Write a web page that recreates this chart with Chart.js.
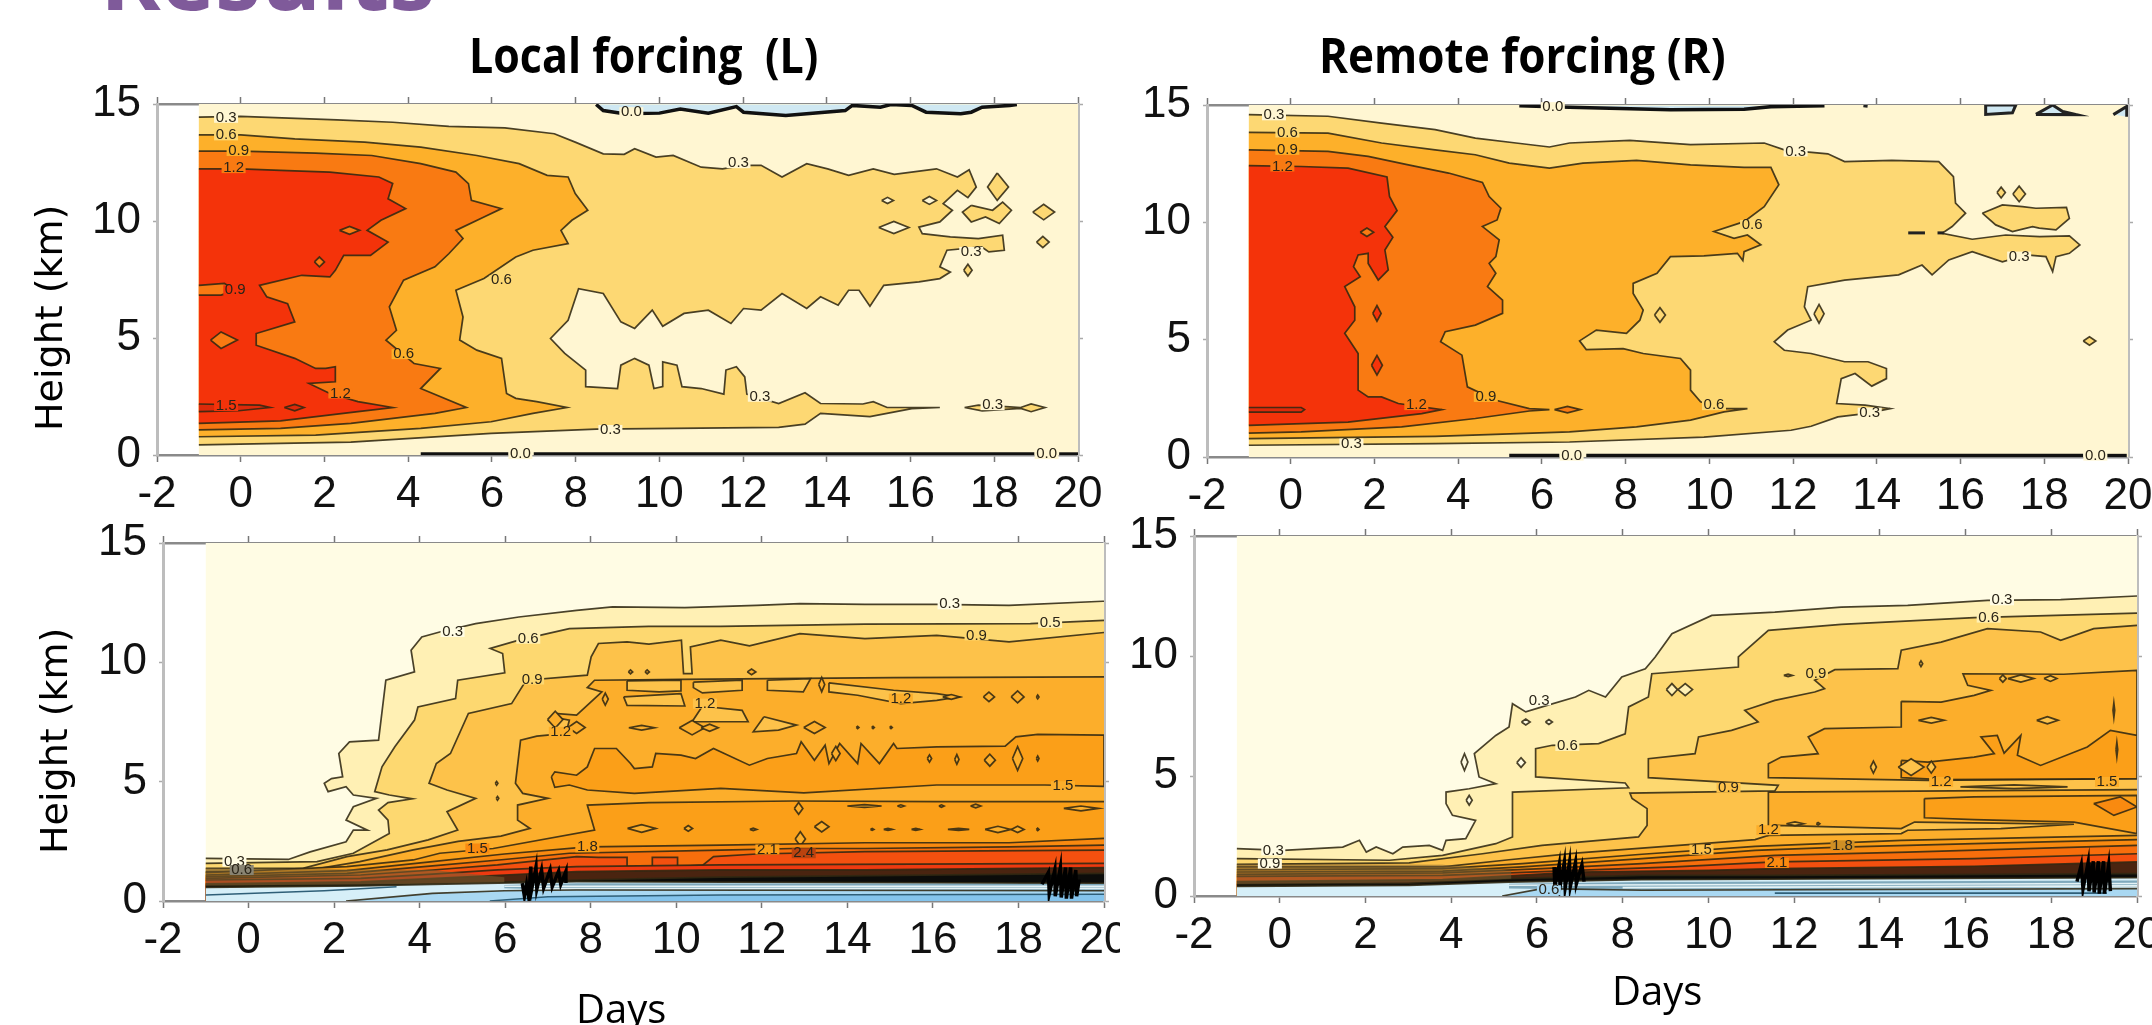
<!DOCTYPE html>
<html>
<head>
<meta charset="utf-8">
<title>Results</title>
<script src="https://cdn.jsdelivr.net/npm/chart.js@4"></script>
<style>
  html, body { margin: 0; padding: 0; background: #fff; overflow: hidden; }
  body { width: 2152px; height: 1025px; position: relative; }
  canvas { position: absolute; filter: blur(0.6px); }
  .txt { position: absolute; white-space: nowrap; transform-origin: 0 0; color: #000; font-family: "Open Sans", sans-serif; line-height: 1; z-index: 2; }
</style>
</head>
<body>
<div class="txt" style="left:100px;top:-71px;font-size:92px;font-weight:700;color:#7f5a9a">Results</div>
<div class="txt" style="left:469px;top:31px;font-size:48px;font-weight:700;transform:scaleX(.895)">Local forcing&nbsp; (L)</div>
<div class="txt" style="left:1319px;top:31px;font-size:48px;font-weight:700;transform:scaleX(.917)">Remote forcing (R)</div>
<div class="txt" style="left:576px;top:988px;font-size:40px;transform:scaleX(1)">Days</div>
<div class="txt" style="left:1612px;top:970px;font-size:40px;transform:scaleX(1)">Days</div>
<div class="txt" style="left:30px;top:431px;font-size:38px;font-family:'DejaVu Sans';transform:rotate(-90deg)">Height (km)</div>
<div class="txt" style="left:35px;top:854px;font-size:38px;font-family:'DejaVu Sans';transform:rotate(-90deg)">Height (km)</div>
<canvas id="localUpper"></canvas>
<canvas id="remoteUpper"></canvas>
<canvas id="localLower"></canvas>
<canvas id="remoteLower"></canvas>
<script>
// axis ticks
const dayTicks = [-2, 0, 2, 4, 6, 8, 10, 12, 14, 16, 18, 20];
const heightTicks = [0, 5, 10, 15];

// contour colours, level by level
const bandColours = { base: '#fff6d2', c03: '#fdd873', c06: '#fdb02a', c09: '#f97a12', c12: '#f4330a', c15: '#dc2a0a' };
const lowColours = { base: '#fffce4', c03: '#fff0b4', c06: '#fdd870', c09: '#fdc24a', c12: '#fcae2b', c15: '#fb9f18',
    c18: '#f98a10', c21: '#f76e0c', c24: '#f4500f', c27: '#ee3a10', dark: '#4a2410', black: '#0c0c0a' };
const blueColours = { pale: '#d6eff8', teal: '#7fa9bc', mid: '#a9d8f2', deep: '#84c4ec', top: '#cfe8f2' };

// ---- local forcing, upper panel: [day, km]
const lu03 = [[-1,14.44],[0,14.47],[2.3,14.32],[3.63,14.22],[4.97,14.04],[6.31,13.98],[7.49,13.73],[7.99,13.37],[8.66,12.87],[9.16,12.85],[9.41,13.09],[9.92,12.73],[10.33,12.8],[11,12.3],[11.51,12.23],[12,12.38],[12.43,12.38],[12.93,11.88],[13.52,12.45],[14.02,12.23],[14.52,11.95],[15.11,12.23],[15.61,11.99],[16.62,12.23],[17.12,11.88],[17.4,12.19],[17.57,11.45],[17.37,11],[17.12,11.31],[16.78,10.74],[17,10.46],[16.7,9.96],[16.2,9.74],[16.28,9.46],[16.95,9.32],[17.62,9.25],[18.2,9.39],[18.24,8.75],[17.87,8.68],[17.7,8.89],[16.87,8.75],[16.7,8.04],[16.95,7.82],[16.7,7.54],[16.2,7.4],[15.36,7.25],[15.03,6.36],[14.77,7.04],[14.52,7.04],[14.27,6.4],[13.85,6.76],[13.52,6.26],[12.93,6.9],[12.43,6.19],[12.01,6.26],[11.71,5.62],[11.17,6.19],[10.59,6.05],[10.08,5.5],[9.83,6.19],[9.41,5.41],[9.08,5.69],[8.66,6.9],[8.07,7.11],[7.82,5.76],[7.4,4.98],[7.74,4.34],[8.24,3.63],[8.24,2.92],[9,2.84],[9.08,3.84],[9.41,4.13],[9.75,3.84],[9.87,2.84],[10.08,2.92],[10.08,3.98],[10.42,3.84],[10.54,2.92],[11,2.84],[11.54,2.6],[11.59,3.63],[11.84,3.77],[12.04,3.34],[12.09,2.6],[12.85,2.2],[13.48,2.66],[13.85,2.2],[14.86,2.18],[15.11,2.28],[15.44,2.03],[16.7,2.03],[16.03,1.98],[15.03,1.64],[13.85,1.78],[13.48,1.32],[12.85,1.18],[8.49,1.11],[5.98,0.92],[2.63,0.55],[0.95,0.5],[-1,0.43]];
const lu06 = [[-1,13.68],[0,13.68],[1.29,13.51],[2.96,13.37],[4.3,13.16],[5.64,12.8],[6.65,12.45],[7.32,11.95],[7.82,11.88],[7.99,11.17],[8.29,10.46],[7.91,10.03],[7.65,9.6],[7.82,9.03],[6.98,8.75],[6.57,8.46],[5.81,7.54],[5.14,7.04],[5.31,5.9],[5.23,4.91],[5.64,4.48],[6.23,4.13],[6.35,2.63],[6.57,2.42],[7.07,2.28],[7.79,2.03],[6.98,1.78],[5.98,1.42],[4.3,1.14],[1.79,0.85],[-1,0.78]];
const lu09 = [[-1,12.99],[0,12.99],[1.79,12.9],[3.13,12.8],[4.3,12.45],[5.14,12.09],[5.44,11.6],[5.51,10.88],[6.23,10.53],[5.81,10.17],[5.14,9.6],[5.31,9.25],[4.97,8.6],[4.64,8.04],[3.89,7.47],[3.55,6.33],[3.72,5.33],[3.47,4.91],[4.14,3.91],[4.77,3.7],[4.3,2.84],[5.39,2.03],[4.64,1.78],[2.63,1.35],[0.95,1.14],[-1,1.07]];
const lu12 = [[-1,12.23],[0,12.23],[0.95,12.16],[2.13,12.09],[3.3,11.88],[3.63,11.6],[3.52,10.95],[3.94,10.53],[3.35,10.03],[3.02,9.6],[3.52,9.1],[3.1,8.53],[2.46,8.53],[2.26,7.89],[2.13,7.61],[1.46,7.68],[0.45,7.25],[0.62,6.76],[1.12,6.47],[1.29,5.69],[0.37,5.19],[0.37,4.69],[1.29,4.13],[1.79,3.7],[2.03,3.7],[2.26,3.77],[2.26,3.13],[1.63,3.06],[2.13,2.63],[2.8,2.28],[3.63,2.03],[2.8,1.85],[0.95,1.46],[-1,1.35]];
const lu15a = [[-1,2.18],[0.45,2.13],[0.7,2.03],[-0.05,1.89],[-1,1.85]];
const lu15b = [[1.04,2.03],[1.29,2.16],[1.51,2.03],[1.29,1.89],[1.04,2.03]];
const luHoleA = [[-1,7.25],[-0.39,7.33],[-0.13,7.04],[-0.47,6.83],[-1,6.83]];
const luHoleB = [[-0.72,4.91],[-0.47,5.26],[-0.08,4.91],[-0.47,4.55],[-0.72,4.91]];
const luTop = [[8.49,14.98],[8.66,14.72],[9.16,14.58],[10,14.61],[10.5,14.79],[11.17,14.61],[11.84,14.89],[12.01,14.65],[13.02,14.51],[14.44,14.72],[14.61,14.94],[15.28,14.86],[15.53,14.98],[16.03,14.94],[16.37,14.65],[17.2,14.58],[17.45,14.65],[17.71,14.86],[18.37,14.94],[18.54,14.98]];
const luLensA = [[18.07,12.05],[18.34,11.45],[18.07,10.88],[17.84,11.45],[18.07,12.05]];
const luLensB = [[17.45,10.67],[17.96,10.46],[18.2,10.81],[18.41,10.46],[18.12,9.89],[17.79,10.17],[17.45,9.96],[17.24,10.38],[17.45,10.67]];
const luLensC = [[17.29,2.03],[17.62,2.13],[18.37,2.06],[18.63,2.03],[18.88,2.18],[19.21,2.03],[18.88,1.85],[18.63,1.99],[17.71,1.89],[17.29,2.03]];
const luLoops03 = [[19.18,10.38,0.26,0.33],[19.16,9.1,0.15,0.24],[17.37,7.9,0.1,0.25]];
const luLoopsBase = [[15.45,10.88,0.14,0.13],[16.45,10.88,0.17,0.17],[15.6,9.72,0.36,0.26]];
const luLoops09 = [[2.6,9.6,0.24,0.17],[1.88,8.25,0.12,0.21]];
const luZero = [[[4.3,0.03],[6.4,0.03]],[[7,0.03],[18.96,0.03]],[[19.55,0.03],[20,0.03]]];
const luLabels = [[-0.35,14.41,'0.3'],[-0.35,13.66,'0.6'],[-0.05,12.99,'0.9'],[-0.17,12.26,'1.2'],[-0.13,7.04,'0.9'],[9.33,14.65,'0.0'],[11.89,12.47,'0.3'],[6.23,7.47,'0.6'],[3.89,4.31,'0.6'],[2.38,2.63,'1.2'],[12.4,2.49,'0.3'],[-0.35,2.09,'1.5'],[8.83,1.07,'0.3'],[17.96,2.13,'0.3'],[17.45,8.68,'0.3'],[6.68,0.04,'0.0'],[19.25,0.04,'0.0']];

// ---- remote forcing, upper panel
const ru03 = [[-1,14.59],[0.89,14.52],[2.17,14.23],[3.45,13.95],[4.41,13.59],[5.38,13.38],[6.18,13.21],[6.66,13.38],[8.1,13.49],[9.55,13.31],[11.31,13.38],[11.79,13.09],[12.83,12.92],[13.23,12.59],[14.36,12.64],[15.48,12.59],[15.83,11.95],[15.88,10.82],[16.12,10.39],[15.8,9.82],[15.56,9.53],[16.28,9.28],[17.08,9.46],[17.89,9.39],[18.6,9.42],[18.85,9.04],[18.6,8.68],[18.28,8.54],[18.2,7.9],[18.04,8.54],[17.57,8.61],[17,8.32],[16.28,8.75],[15.72,8.4],[15.32,7.76],[15.08,8.18],[14.52,7.76],[13.23,7.54],[12.35,7.26],[12.27,6.4],[12.43,5.83],[11.87,5.41],[11.55,4.91],[11.79,4.55],[12.43,4.41],[13.23,4.06],[13.79,4.06],[14.23,3.77],[14.23,3.34],[13.88,3.02],[13.48,3.56],[13.15,3.34],[13.04,2.28],[13.72,2.21],[14.32,2.06],[13.72,1.85],[13.07,1.71],[12.43,1.31],[11.95,1.14],[9.87,0.85],[6.66,0.64],[3.45,0.57],[-1,0.5]];
const ru06 = [[-1,13.83],[0.89,13.8],[2.17,13.38],[3.45,13.09],[4.41,12.88],[5.22,12.52],[6.18,12.31],[6.98,12.52],[8.26,12.64],[9.55,12.45],[10.83,12.34],[11.47,12.34],[11.66,11.6],[11.31,10.67],[10.83,10.03],[10.11,9.61],[10.59,9.32],[10.91,9.46],[11.23,9.04],[10.83,8.75],[10.8,8.37],[10.67,8.68],[9.87,8.57],[9.07,8.54],[8.75,7.83],[8.18,7.4],[8.18,6.97],[8.42,6.26],[8.34,5.83],[8.02,5.27],[7.3,5.41],[6.9,4.95],[7.06,4.58],[7.94,4.62],[8.42,4.41],[9.31,4.2],[9.55,3.7],[9.55,2.85],[9.79,2.35],[10.35,2.06],[10.91,2.06],[10.35,1.92],[9.55,1.57],[8.26,1.28],[6.66,1.07],[3.45,0.88],[-1,0.78]];
const ru09 = [[-1,13.09],[0.89,13.02],[1.85,12.81],[2.81,12.45],[3.77,12.1],[4.58,11.7],[4.74,11.1],[5.02,10.6],[4.93,10.1],[4.58,9.82],[4.98,9.25],[4.9,8.54],[4.74,8.25],[4.9,7.83],[4.7,7.26],[5.06,6.69],[5.06,6.12],[4.41,5.62],[3.69,5.34],[3.58,4.91],[4.09,4.34],[4.22,2.99],[4.9,2.42],[5.7,2.06],[6.18,2.02],[5.7,1.96],[4.41,1.64],[2.65,1.28],[0.25,1.07],[-1,1.02]];
const ru12 = [[-1,12.42],[0.25,12.38],[1.37,12.31],[2.3,11.93],[2.36,11.1],[2.54,10.5],[2.25,9.82],[2.44,9.36],[2.25,8.82],[2.33,7.97],[2.09,7.54],[1.85,8.25],[1.85,8.68],[1.61,8.61],[1.5,8.11],[1.66,7.68],[1.29,7.26],[1.53,6.4],[1.53,5.83],[1.29,5.27],[1.61,4.41],[1.61,2.85],[1.85,2.56],[2.17,2.56],[2.57,2.28],[3.61,2.02],[3.13,1.85],[1.37,1.49],[-1,1.35]];
const ru15 = [[-1,2.11],[0.25,2.11],[0.33,2.02],[0.25,1.91],[-1,1.91]];
const ruTop = [[5.46,14.97],[6.66,14.9],[9.07,14.8],[10.83,14.82],[11.47,14.93],[12.75,14.97]];
const ruLobe = [[16.52,10.39],[17,10.74],[17.48,10.67],[17.8,10.6],[18.53,10.64],[18.6,10.17],[18.28,9.68],[17.88,9.75],[17.72,9.82],[17.24,9.61],[16.84,9.89],[16.52,10.39]];
const ruBlobA = [[16.6,15],[17.32,15],[17.24,14.67],[16.6,14.6],[16.6,15]];
const ruBlobB = [[17.8,14.6],[18.2,15],[18.44,14.72],[18.76,14.59],[17.8,14.6]];
const ruBlobC = [[19.65,14.59],[19.97,14.94],[19.97,14.5]];
const ruDash = [[[14.75,9.55],[15.15,9.55]],[[15.45,9.55],[15.6,9.55]],[[13.68,14.97],[13.78,14.95]]];
const ruLoops03 = [[16.97,11.27,0.1,0.23],[17.4,11.21,0.15,0.33],[12.62,6.1,0.12,0.4],[8.82,6.05,0.13,0.31]];
const ruLoops06 = [[19.08,4.94,0.15,0.18]];
const ruLoops09 = [[6.61,2.02,0.31,0.14],[1.82,9.58,0.16,0.18]];
const ruLoops12 = [[2.06,6.12,0.1,0.33],[2.06,3.91,0.13,0.42]];
const ruZero = [[[5.22,0.05],[6.42,0.05]],[[7.06,0.05],[18.93,0.05]],[[19.49,0.05],[19.97,0.05]]];
const ruLabels = [[-0.4,14.56,'0.3'],[-0.08,13.83,'0.6'],[-0.08,13.09,'0.9'],[-0.2,12.38,'1.2'],[6.26,14.91,'0.0'],[12.06,13.02,'0.3'],[11.02,9.89,'0.6'],[17.4,8.54,'0.3'],[4.66,2.56,'0.9'],[10.11,2.21,'0.6'],[3,2.21,'1.2'],[13.83,1.89,'0.3'],[1.45,0.57,'0.3'],[6.71,0.06,'0.0'],[19.22,0.06,'0.0']];

// ---- local forcing, lower panel
const ll03 = [[-1,1.79],[0.93,1.74],[1.44,2.06],[2.28,2.48],[2.45,2.97],[2.78,2.97],[2.28,3.39],[2.45,3.95],[2.99,4.3],[2.45,4.44],[2.28,4.79],[1.86,4.58],[1.77,4.93],[1.94,5.13],[2.2,5.2],[2.11,6.18],[2.36,6.67],[3.04,6.74],[3.21,9.25],[3.88,9.6],[3.8,10.51],[4.05,11.06],[4.47,11.27],[5.31,11.62],[6.32,11.9],[7.67,12.18],[8.51,12.32],[10.2,12.29],[11.88,12.39],[12.89,12.46],[14.41,12.43],[16.09,12.43],[17.78,12.39],[19.97,12.56],[20,12.56]];
const ll06 = [[-1,1.58],[1.6,1.65],[2.45,2],[3.29,2.83],[3.26,3.39],[3.04,3.81],[3.26,4.12],[3.83,4.28],[3.29,4.44],[2.95,4.58],[3.12,5.62],[3.42,6.46],[3.88,7.58],[3.96,8.13],[4.84,8.48],[4.89,9.25],[5.99,9.56],[5.94,10.37],[5.65,10.58],[6.32,10.93],[7.5,11.41],[9.36,11.51],[11.04,11.51],[14.41,11.6],[18.28,11.62],[20,11.76]];
const ll09 = [[-1,1.37],[1.27,1.37],[2.3,1.86],[3.24,2.14],[4.2,2.56],[4.89,2.97],[4.64,3.74],[5.31,4.3],[4.64,4.65],[4.22,4.93],[4.39,5.76],[4.72,6.18],[5.14,7.86],[6.15,8.27],[6.49,9.25],[7.92,9.46],[8.01,10.23],[8.18,10.79],[8.85,10.86],[9.36,10.76],[10.12,10.93],[10.17,9.53],[10.37,9.53],[10.33,10.65],[11.04,10.93],[11.71,10.69],[12.89,11.2],[14.41,10.99],[16.09,11.13],[17.78,10.86],[20,11.25]];
const ll12 = [[-1,1.23],[1.27,1.25],[2.6,1.65],[3.85,2.14],[4.9,2.5],[5.9,2.72],[6.58,3.04],[6.29,3.39],[6.29,4.02],[7,4.3],[6.41,4.51],[6.24,4.93],[6.36,6.74],[6.74,6.91],[7.42,7.02],[7.5,7.58],[7.08,7.72],[7.16,7.86],[7.67,7.79],[8.26,8.76],[7.92,8.94],[8.09,9.25],[10.11,9.29],[15.08,9.36],[20,9.39]];
const ll15a = [[7.08,5.2],[7.16,5.41],[7.67,5.27],[7.92,5.62],[8.09,6.39],[8.6,6.39],[8.93,5.76],[9.02,5.55],[9.44,5.62],[9.52,6.18],[10.11,6.11],[10.45,5.97],[10.87,6.39],[11.71,5.69],[12.13,5.97],[12.81,6.18],[12.92,6.67],[13.23,5.9],[13.48,6.53],[13.57,5.76],[13.82,6.6],[14.24,5.76],[14.32,6.6],[14.75,5.76],[15.08,6.6],[15.16,6.39],[16.09,6.46],[17.69,6.49],[17.94,6.88],[18.45,6.98],[20,6.95],[20,4.8],[18.62,4.86],[16.09,4.86],[12.98,4.53],[11.04,4.72],[9.02,4.51],[7.92,4.65],[7.5,4.86],[7.16,4.76],[7.08,5.2]];
const ll15b = [[20,4.16],[16.09,4.16],[12.72,4.19],[9.36,4.12],[7.92,4.02],[8.09,2.97],[5.72,2.2],[4.47,2],[3.85,1.72],[2.3,1.44],[-1,1.19]];
const ll18 = [[-1,1.09],[2.3,1.27],[4.3,1.65],[5.98,1.97],[7.92,2.27],[11.04,2.34],[14.41,2.44],[17.78,2.44],[20,2.62]];
const ll21 = [[-1,1.02],[2.3,1.16],[4.3,1.47],[5.98,1.74],[7.5,2],[11.04,2.13],[12.72,2.2],[14.41,2.2],[17.78,2.27],[20,2.34]];
const ll24 = [[-1,0.95],[2.62,1.09],[4.3,1.3],[5.82,1.51],[7.67,1.86],[8.18,1.83],[8.85,1.83],[8.85,1.44],[9.44,1.44],[9.44,1.83],[10.03,1.83],[10.03,1.44],[10.62,1.5],[10.87,1.86],[11.88,1.97],[14.41,2.07],[20,2.13]];
const ll27 = [[-1,0.88],[2.62,0.95],[4.3,1.13],[5.82,1.3],[7.67,1.44],[11.04,1.51],[20,1.58]];
const llDark = [[-1,0.72],[2.62,0.8],[5.98,1.09],[7.67,1.23],[11.04,1.3],[14.41,1.3],[20,1.4]];
const llBlack = [[-1,0.65],[4.3,0.72],[7.67,0.88],[11.04,1.0],[20,1.16]];
const llPale = [[-1,0.57],[2.62,0.63],[4.3,0.7],[7.67,0.81],[20,0.74]];
const llTeal = [[5.98,0.67],[7.67,0.74],[20,0.71],[20,0.43],[7.67,0.46],[5.98,0.53],[5.98,0.67]];
const llMid = [[2.28,0],[4.3,0.32],[5.98,0.43],[7.67,0.46],[20,0.43]];
const llDeep = [[5.64,0],[7,0.18],[11.04,0.25],[20,0.28]];
const llThin = [[-1,0.25],[1.77,0.43],[3.46,0.6]];
const llStripes = [[[5.98,0.62],[20,0.62]],[[6.4,0.52],[20,0.53]]];
const llMud = [[-1,1.37],[4.3,1.3],[5.98,1.0],[5.98,0.7],[4.3,0.72],[-1,0.65]];
const llIslands = [[[8.85,9.22],[10.11,9.25],[10.11,8.8],[9.6,8.76],[8.85,8.83],[8.85,9.22]],[[10.4,9.17],[11.54,9.25],[11.54,8.83],[10.61,8.72],[10.4,8.94],[10.4,9.17]],[[8.77,8.55],[10.11,8.69],[10.2,8.17],[8.85,8.2],[8.77,8.55]],[[10.61,8.16],[11.54,7.99],[11.68,7.51],[10.37,7.51],[10.61,8.16]],[[12.13,9.25],[13.14,9.32],[12.97,8.76],[12.13,8.83],[12.13,9.25]],[[13.57,9.14],[15.08,8.83],[16.09,8.69],[16.59,8.55],[16.09,8.41],[15.25,8.27],[14.24,8.62],[13.57,8.76],[13.57,9.14]],[[12.05,7.72],[12.81,7.37],[12.39,7.16],[11.8,7.09],[12.05,7.72]]];
const llLoops = [[9.19,3.04,0.33,0.16],[10.28,3.04,0.1,0.12],[11.8,3,0.08,0.05],[13.4,3.11,0.17,0.22],[14.58,3,0.04,0.04],[14.95,3,0.1,0.04],[15.6,3,0.1,0.04],[16.6,3,0.25,0.04],[17.52,3,0.3,0.13],[17.98,3,0.15,0.13],[18.45,3,0.03,0.05],[12.86,3.88,0.1,0.25],[14.4,3.98,0.4,0.06],[15.25,3.98,0.08,0.05],[16.2,3.98,0.06,0.05],[17,3.98,0.12,0.08],[19.46,3.88,0.4,0.1],[15.92,5.97,0.05,0.15],[16.56,5.93,0.05,0.2],[17.33,5.9,0.13,0.25],[17.98,5.97,0.12,0.5],[18.45,5.97,0.03,0.1],[13.73,6.18,0.1,0.3],[9.19,7.26,0.3,0.1],[10.37,7.26,0.3,0.3],[10.78,7.26,0.2,0.15],[13.23,7.27,0.25,0.25],[14.24,7.27,0.03,0.05],[14.6,7.27,0.03,0.05],[15.02,7.27,0.03,0.05],[7.67,7.27,0.2,0.25],[7.17,7.6,0.18,0.35],[8.34,8.46,0.07,0.25],[16.43,8.55,0.2,0.1],[17.31,8.55,0.13,0.2],[17.98,8.55,0.15,0.25],[18.45,8.55,0.03,0.08],[8.93,9.6,0.05,0.08],[9.32,9.6,0.05,0.08],[11.76,9.6,0.1,0.12],[13.4,9.07,0.07,0.3],[5.8,4.93,0.03,0.08],[5.82,4.3,0.03,0.08],[12.9,2.6,0.12,0.3]];
const llScribble = [[[6.4,0.75],[6.45,0.2],[6.5,0.7],[6.55,0.15],[6.6,1.44],[6.62,0.5],[6.72,1.42],[6.74,0.5],[6.85,1.3],[6.9,0.55],[7.05,1.3],[7.1,0.6],[7.25,1.25],[7.3,0.7],[7.42,1.25],[7.42,0.75]],[[18.55,0.7],[18.7,1.2],[18.72,0.3],[18.85,1.3],[18.86,0.2],[18.98,1.4],[19.0,0.15],[19.1,1.4],[19.12,0.1],[19.22,1.4],[19.24,0.1],[19.34,1.3],[19.36,0.2],[19.42,0.9]]];
const llLabels = [[4.77,11.27,'0.3'],[6.54,10.99,'0.6'],[6.63,9.28,'0.9'],[16.39,12.43,'0.3'],[18.74,11.65,'0.5'],[17.02,11.13,'0.9'],[19.04,4.81,'1.5'],[5.35,2.2,'1.5'],[7.92,2.25,'1.8'],[12.13,2.16,'2.1'],[12.98,2.0,'2.4'],[15.25,8.48,'1.2'],[10.67,8.27,'1.2'],[7.3,7.09,'1.2'],[-0.33,1.65,'0.3'],[-0.16,1.3,'0.6']];

// ---- remote forcing, lower panel
const rl03 = [[-1,1.97],[0.08,1.9],[1.47,2.04],[1.86,2.32],[2.02,1.83],[2.25,2.04],[2.64,1.76],[2.87,2.04],[3.49,2.11],[3.8,1.9],[3.88,2.32],[4.34,2.39],[4.57,3.15],[4.03,3.36],[3.88,3.85],[3.88,4.33],[4.42,4.47],[5.04,4.68],[4.65,4.96],[4.54,5.93],[5.04,6.69],[5.35,7.04],[5.43,8.01],[5.74,7.67],[6.12,7.88],[6.9,8.29],[7.21,8.57],[7.6,8.29],[7.98,9.13],[8.53,9.47],[8.76,9.96],[9.15,10.93],[10.08,11.69],[11.55,11.83],[13.1,12.04],[14.65,12.11],[16.51,12.32],[18.22,12.35],[20,12.5]];
const rl06 = [[-1,1.56],[2.56,1.49],[3.8,1.69],[5.04,2.18],[5.43,2.46],[5.43,4.33],[8.14,4.51],[8.06,4.71],[5.97,4.96],[5.97,6.14],[6.36,6.28],[7.44,6.35],[8.06,6.76],[8.14,7.88],[8.6,8.29],[8.68,9.26],[10.7,9.54],[10.7,9.96],[11.4,11.07],[13.1,11.32],[16.2,11.6],[20,11.79]];
const rl09 = [[-1,1.32],[3.02,1.38],[4.73,1.76],[6.12,2.11],[8.37,2.46],[8.57,2.94],[8.57,3.64],[8.22,4.06],[8.17,4.29],[11.55,4.38],[11.63,4.61],[8.6,4.93],[8.6,5.72],[9.69,5.93],[9.77,6.63],[10.54,6.9],[11.16,7.25],[10.85,7.74],[11.55,8.15],[12.48,8.5],[12.71,8.64],[12.48,8.99],[12.95,9.43],[14.42,9.47],[14.5,10.24],[15.43,10.58],[16.51,11.14],[17.75,11],[18.22,10.65],[18.99,11.14],[20,11.28]];
const rl12a = [[-1,1.21],[3.8,1.21],[5.35,1.51],[6.9,1.79],[11.09,2.35],[11.4,2.53],[11.4,4.33],[20,4.43]];
const rl12b = [[14.5,8.11],[15.43,8.08],[16.2,8.36],[16.59,8.57],[16.05,8.78],[15.94,9.26],[18.29,9.24],[20,9.4],[20,4.89],[15.12,4.82],[11.4,4.93],[11.4,5.51],[11.7,5.79],[12.56,5.93],[12.33,6.63],[12.71,6.97],[14.5,7.04],[14.5,8.11]];
const rlStrip = [[11.55,2.94],[14.5,2.81],[14.81,3.08],[16.67,3.04],[18.53,2.99],[16.82,2.81],[14.65,2.74],[14.5,2.6],[11.4,2.53],[11.55,2.94]];
const rl15a = [[15.04,4.06],[16.2,4.13],[20,4.19],[20,2.6],[18.53,3.08],[16.2,3.18],[15.04,3.26],[15.04,4.06]];
const rl15b = [[14.5,5.65],[15.12,5.58],[16.2,5.79],[16.67,5.93],[16.36,6.63],[16.74,6.69],[16.9,5.95],[17.29,6.69],[17.21,5.86],[17.75,5.44],[18.84,6.21],[19.38,6.9],[20,6.69],[20,4.89],[15.43,4.85],[14.5,4.93],[14.5,5.65]];
const rl15c = [[-1,1.1],[3.8,1.14],[5.66,1.35],[8.45,1.74],[11.09,2.07],[14.5,2.32],[20,2.53]];
const rl18 = [[-1,1],[3.8,1.04],[5.66,1.21],[8.45,1.56],[11.09,1.9],[13.1,2.04],[16.2,2.18],[20,2.35]];
const rl21 = [[-1,0.9],[3.8,0.96],[6.12,1.14],[8.45,1.35],[11.55,1.69],[14.65,1.83],[20,2.11]];
const rl24 = [[-1,0.82],[3.8,0.86],[6.9,1.07],[9.22,1.21],[11.55,1.42],[16.2,1.56],[20,1.76]];
const rlDark = [[-1,0.6],[3.8,0.68],[6.9,1],[10,1.07],[11.55,1.14],[16.2,1.24],[20,1.42]];
const rlBlack = [[-1,0.5],[3.02,0.54],[5.35,0.72],[8.45,0.86],[11.55,0.86],[20,0.93]];
const rlPale = [[-1,0.4],[3.02,0.44],[5.35,0.58],[8.45,0.68],[20,0.76]];
const rlTeal = [[5.35,0.51],[8.45,0.58],[20,0.65],[20,0.38],[14.65,0.31],[8.45,0.24],[5.35,0.31],[5.35,0.51]];
const rlMid = [[5.19,0],[6.12,0.31],[8.45,0.24],[20,0.31]];
const rlThin = [[11.55,0.12],[19.3,0.12]];
const rlStripes = [[[5.35,0.45],[20,0.52]],[[8,0.35],[20,0.42]]];
const rlMud = [[-1,1.32],[3.8,1.3],[5.4,1.05],[5.4,0.72],[3,0.56],[-1,0.5]];
const rlIsland = [[18.99,3.85],[19.61,4.13],[20,3.71],[19.46,3.36],[18.99,3.85]];
const rlLoopsPale = [[5.74,7.25,0.1,0.12],[6.28,7.25,0.08,0.1],[4.31,5.58,0.08,0.35],[4.42,3.99,0.07,0.2],[5.63,5.56,0.1,0.2],[9.15,8.6,0.13,0.25],[9.46,8.6,0.17,0.25]];
const rlLoops = [[17.13,4.55,1.25,0.08],[14.96,9.68,0.04,0.12],[13.85,5.37,0.07,0.25],[14.73,5.37,0.3,0.35],[15.2,5.37,0.1,0.25],[15.2,7.32,0.3,0.12],[17.91,7.32,0.25,0.15],[19.46,7.74,0.02,0.3],[16.87,9.06,0.08,0.15],[17.98,9.06,0.15,0.12],[17.29,9.06,0.3,0.15],[12.02,3.01,0.2,0.08],[12.56,3.01,0.04,0.05],[11.86,9.19,0.1,0.05],[19.53,6.1,0.02,0.3]];
const rlScribble = [[[6.4,1.2],[6.42,0.4],[6.52,1.3],[6.54,0.4],[6.64,1.4],[6.66,0.35],[6.76,1.4],[6.78,0.4],[6.9,1.4],[6.92,0.5],[7.05,1.3],[7.1,0.6]],[[18.6,0.6],[18.7,1.3],[18.74,0.3],[18.86,1.4],[18.88,0.2],[18.98,1.45],[19.0,0.15],[19.1,1.45],[19.12,0.1],[19.22,1.45],[19.24,0.1],[19.34,1.3],[19.38,0.2]]];
const rlLabels = [[-0.15,1.9,'0.3'],[-0.23,1.35,'0.9'],[6.05,8.15,'0.3'],[6.71,6.25,'0.6'],[10.47,4.51,'0.9'],[12.51,9.26,'0.9'],[11.4,2.74,'1.2'],[9.84,1.93,'1.5'],[13.13,2.11,'1.8'],[11.6,1.38,'2.1'],[15.43,4.75,'1.2'],[19.3,4.75,'1.5'],[16.85,12.32,'0.3'],[16.54,11.6,'0.6'],[6.28,0.24,'0.6']];

const LINE = 'rgba(48,40,18,0.88)';
const BOX = [[20, 0], [-1, 0]];
const BOX_BACK = [[-1, 0], [20, 0]];
const FRAME = [[-1, 0], [20, 0], [20, 15], [-1, 15], [-1, 0]];

function fillSet(points, colour) {
    return { data: points, showLine: true, pointRadius: 0, borderWidth: 0, borderColor: 'transparent', backgroundColor: colour, fill: 'shape', tension: 0 };
}
function lineSet(points, colour, width) {
    return { data: points, showLine: true, pointRadius: 0, borderWidth: width, borderColor: colour, fill: false, tension: 0 };
}
// a contour: filled up to "tail", outlined only along the contour itself
function level(points, colour, tail, width, stroke) {
    const closed = points.concat(tail || [], [points[0]]);
    return [fillSet(closed, colour), lineSet(points, stroke || LINE, width === undefined ? 1.7 : width)];
}
function loops(list, colour) {
    let sets = [];
    list.forEach(l => {
        const p = [[l[0] - l[2], l[1]], [l[0], l[1] + l[3]], [l[0] + l[2], l[1]], [l[0], l[1] - l[3]], [l[0] - l[2], l[1]]];
        sets = sets.concat(level(p, colour));
    });
    return sets;
}
function strokes(list, colour, width) {
    return list.map(p => lineSet(p, colour, width));
}
const U = bandColours, L = lowColours, B = blueColours;

const localUpperSets = [].concat(
    [fillSet(FRAME, U.base)],
    level(luTop, B.top, [], 3.5, '#111'),
    level(lu03, U.c03),
    level(luLensA, U.c03), level(luLensB, U.c03), level(luLensC, U.c03), loops(luLoops03, U.c03), loops(luLoopsBase, U.base),
    level(lu06, U.c06),
    level(lu09, U.c09),
    level(lu12, U.c12),
    level(luHoleA, U.c09), level(luHoleB, U.c09), loops(luLoops09, U.c09),
    level(lu15a, U.c15), level(lu15b, U.c15),
    strokes(luZero, '#111', 4)
);
const remoteUpperSets = [].concat(
    [fillSet(FRAME, U.base)],
    level(ruTop, B.top, [], 3.5, '#111'),
    level(ruBlobA, B.top, [], 3, '#222'), level(ruBlobB, B.top, [], 3, '#222'), level(ruBlobC, B.top, [], 3, '#222'),
    level(ru03, U.c03), level(ruLobe, U.c03), loops(ruLoops03.slice(0, 3), U.c03), loops(ruLoops06, U.c03),
    level(ru06, U.c06), loops(ruLoops03.slice(3), U.c03),
    level(ru09, U.c09), loops([ruLoops09[0]], U.c09),
    level(ru12, U.c12), loops([ruLoops09[1]], U.c09), loops(ruLoops12, U.c12),
    level(ru15, U.c15),
    strokes(ruDash, '#222', 3),
    strokes(ruZero, '#111', 4)
);
const localLowerSets = [].concat(
    [fillSet(FRAME, L.base)],
    level(ll03, L.c03, BOX),
    level(ll06, L.c06, BOX),
    level(ll09, L.c09, BOX),
    level(ll12, L.c12, BOX),
    llIslands.reduce((a, p) => a.concat(level(p, L.c09)), []),
    level(ll15a, L.c15),
    level(ll15b, L.c15, BOX_BACK),
    loops(llLoops, L.c12),
    level(ll18, L.c18, BOX),
    level(ll21, L.c21, BOX),
    level(ll24, L.c24, BOX),
    level(ll27, L.c27, BOX),
    level(llDark, L.dark, BOX),
    level(llBlack, L.black, BOX),
    [fillSet(llMud.concat([llMud[0]]), 'rgba(120,95,50,0.55)')],
    level(llPale, B.pale, BOX),
    [fillSet(llTeal, B.teal)],
    strokes(llStripes, '#e4f2f5', 1.6),
    level(llMid, B.mid, [[20, 0]]),
    level(llDeep, B.deep, [[20, 0]], 1.4, '#2f5f78'),
    strokes([llThin], '#2f5f78', 1.6),
    strokes(llScribble, '#000', 3.5)
);
const remoteLowerSets = [].concat(
    [fillSet(FRAME, L.base)],
    level(rl03, L.c03, BOX),
    loops(rlLoopsPale.slice(0, 5), L.base),
    level(rl06, L.c06, BOX),
    loops(rlLoopsPale.slice(5), L.c03),
    level(rl09, L.c09, BOX),
    level(rl12a, L.c12, BOX),
    level(rl12b, L.c12),
    level(rlStrip, L.c09),
    level(rl15a, L.c15),
    level(rl15b, L.c15),
    level(rlIsland, L.c18),
    loops(rlLoops, L.c09),
    level(rl15c, L.c15, BOX),
    level(rl18, L.c18, BOX),
    level(rl21, L.c21, BOX),
    level(rl24, L.c24, BOX),
    level(rlDark, L.dark, BOX),
    level(rlBlack, L.black, BOX),
    [fillSet(rlMud.concat([rlMud[0]]), 'rgba(120,95,50,0.55)')],
    level(rlPale, B.pale, BOX),
    [fillSet(rlTeal, B.teal)],
    strokes(rlStripes, '#e4f2f5', 1.6),
    level(rlMid, B.mid, [[20, 0]]),
    strokes([rlThin], '#2f5f78', 1.6),
    strokes(rlScribble, '#000', 3.5)
);

// small contour values, written in a gap of the line
const contourLabels = {
    id: 'contourLabels',
    afterDatasetsDraw(chart) {
        const ctx = chart.ctx, sx = chart.scales.x, sy = chart.scales.y, area = chart.chartArea;
        ctx.save();
        ctx.font = '15px "Liberation Sans"';
        ctx.textAlign = 'center';
        ctx.textBaseline = 'middle';
        (chart.options.plugins.contourLabels.list || []).forEach(l => {
            const x = sx.getPixelForValue(l[0]), y = sy.getPixelForValue(l[1]);
            // take the lighter of the colours just above and below, that is the band and not a line
            const above = ctx.getImageData(Math.round(x), Math.max(Math.round(y) - 10, area.top + 3), 1, 1).data;
            const below = ctx.getImageData(Math.round(x), Math.min(Math.round(y) + 10, area.bottom - 3), 1, 1).data;
            const c = above[0] + above[1] + above[2] > below[0] + below[1] + below[2] ? above : below;
            ctx.fillStyle = 'rgb(' + c[0] + ',' + c[1] + ',' + c[2] + ')';
            ctx.fillRect(x - 12, y - 5, 24, 10);
            ctx.fillStyle = '#2a2418';
            ctx.fillText(l[2], x, y);
        });
        ctx.restore();
    }
};

function panel(id, rect, axis, sets, labels) {
    const cv = document.getElementById(id);
    cv.width = rect.w; cv.height = rect.h;
    cv.style.left = rect.x + 'px'; cv.style.top = rect.y + 'px';
    const solid = { color: '#8a8a8a', width: 2.5 };
    const pale = { color: '#bdbdbd', width: 3 };
    const grid = { drawOnChartArea: false, tickColor: '#777', tickWidth: 1.5, tickLength: 7 };
    const setTicks = list => s => { s.ticks = list.map(v => ({ value: v })); };
    new Chart(cv, {
        type: 'scatter',
        // chart.js paints the first dataset last, so hand over the layers top first
        data: { datasets: sets.slice().reverse() },
        plugins: [contourLabels],
        options: {
            responsive: false,
            animation: false,
            events: [],
            layout: { padding: 0 },
            plugins: { legend: { display: false }, tooltip: { enabled: false }, contourLabels: { list: labels } },
            scales: {
                x: {
                    type: 'linear', position: 'bottom', min: -2, max: 20, border: solid, grid: grid,
                    afterBuildTicks: setTicks(dayTicks),
                    afterFit: s => { s.height = rect.y + rect.h - axis.bottom; s.paddingLeft = 0; s.paddingRight = 0; },
                    ticks: { autoSkip: false, maxRotation: 0, padding: 6, color: '#111', font: { family: '"Liberation Sans"', size: 44 } }
                },
                x2: {
                    type: 'linear', axis: 'x', position: 'top', min: -2, max: 20, border: solid, grid: grid,
                    afterBuildTicks: setTicks(dayTicks),
                    afterFit: s => { s.height = axis.top - rect.y; s.paddingLeft = 0; s.paddingRight = 0; },
                    ticks: { display: false }
                },
                y: {
                    type: 'linear', position: 'left', min: 0, max: 15, border: pale,
                    grid: { drawOnChartArea: false, tickColor: '#aaa', tickWidth: 1.5, tickLength: 4 },
                    afterBuildTicks: setTicks(heightTicks),
                    afterFit: s => { s.width = axis.left - rect.x; s.paddingTop = 0; s.paddingBottom = 0; },
                    ticks: { padding: 12, color: '#111', font: { family: '"Liberation Sans"', size: 44 } }
                },
                y2: {
                    type: 'linear', axis: 'y', position: 'right', min: 0, max: 15, border: pale,
                    grid: { drawOnChartArea: false, tickColor: '#aaa', tickWidth: 1.5, tickLength: 5 },
                    afterBuildTicks: setTicks(heightTicks),
                    afterFit: s => { s.width = rect.x + rect.w - axis.right; s.paddingTop = 0; s.paddingBottom = 0; },
                    ticks: { display: false }
                }
            }
        }
    });
}

panel('localUpper', { x: 0, y: 85, w: 1112, h: 435 }, { left: 157, right: 1078, top: 104, bottom: 455 }, localUpperSets, luLabels);
panel('remoteUpper', { x: 1112, y: 85, w: 1040, h: 435 }, { left: 1207, right: 2128, top: 105, bottom: 457 }, remoteUpperSets, ruLabels);
panel('localLower', { x: 0, y: 520, w: 1120, h: 505 }, { left: 163, right: 1104, top: 543, bottom: 901 }, localLowerSets, llLabels);
panel('remoteLower', { x: 1120, y: 515, w: 1032, h: 510 }, { left: 1194, right: 2137, top: 536, bottom: 896 }, remoteLowerSets, rlLabels);
</script>
</body>
</html>
